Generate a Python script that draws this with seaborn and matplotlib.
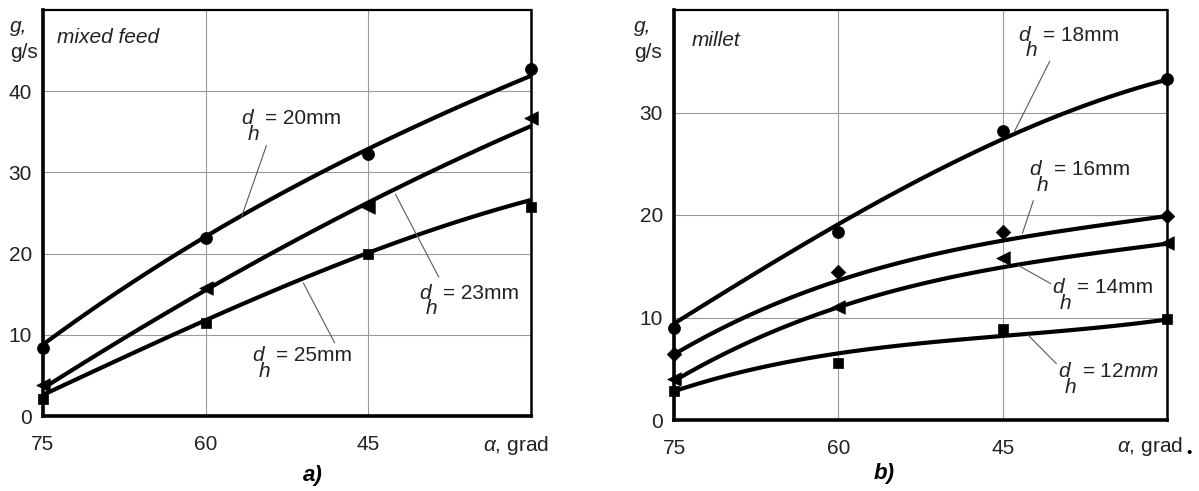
import numpy as np
import pandas as pd
import seaborn as sns
import matplotlib.pyplot as plt

sns.set_theme(style="white")
plt.rcParams['font.family'] = ['Liberation Sans', 'DejaVu Sans']
plt.rcParams['mathtext.fontset'] = 'custom'
plt.rcParams['mathtext.rm'] = 'Liberation Sans'
plt.rcParams['mathtext.it'] = 'Liberation Sans:italic'

angles = [75, 60, 45, 30]

# a) mixed feed - measured points and the drawn trend curve, read off the figure
g_20 = [8.4, 21.9, 32.3, 42.7]
g_23 = [3.8, 15.8, 25.8, 36.7]
g_25 = [2.1, 11.5, 20.0, 25.8]
fit_20 = [8.8, 22.1, 32.9, 41.9]
fit_23 = [3.4, 15.5, 26.3, 35.7]
fit_25 = [2.6, 11.8, 20.1, 26.6]

# b) millet
g_18 = [9.0, 18.3, 28.2, 33.3]
g_16 = [6.4, 14.4, 18.3, 19.9]
g_14 = [4.0, 11.0, 15.8, 17.3]
g_12 = [2.8, 5.6, 8.9, 9.9]
fit_18 = [9.4, 19.1, 27.4, 33.2]
fit_16 = [6.4, 13.6, 17.5, 19.9]
fit_14 = [3.8, 11.0, 14.9, 17.2]
fit_12 = [2.8, 6.5, 8.2, 9.8]

FS = 15
TXT = '#222222'

fig = plt.figure(figsize=(11.99, 4.91), dpi=100)
ax1 = fig.add_axes([43 / 1199, 75 / 491, 488 / 1199, 406 / 491])
ax2 = fig.add_axes([674 / 1199, 71 / 491, 493 / 1199, 410 / 491])


def draw_series(ax, g, fit, marker, size):
    df = pd.DataFrame({"angle": angles, "g": g, "fit": fit})
    sns.regplot(data=df, x="angle", y="fit", order=3, ci=None, scatter=False,
                color="black", line_kws=dict(lw=3.0, solid_capstyle="butt"), ax=ax)
    sns.scatterplot(data=df, x="angle", y="g", marker=marker, s=size, color="black",
                    edgecolor="black", linewidth=0.5, clip_on=False, zorder=4, ax=ax)


def dh_label(ax, x, y, num, mm_italic=False):
    ax.text(x, y, "d", style="italic", ha="center", va="center", fontsize=FS, color=TXT)
    ax.annotate("h", (x, y), xytext=(5, -11), textcoords="offset points", style="italic",
                ha="center", va="center", fontsize=FS, color=TXT)
    s = "= " + num + (r"$\mathit{mm}$" if mm_italic else "mm")
    ax.annotate(s, (x, y), xytext=(13, 0), textcoords="offset points",
                ha="left", va="center", fontsize=FS, color=TXT)


def leader(ax, p0, p1):
    ax.annotate("", xy=p1, xytext=p0,
                arrowprops=dict(arrowstyle="-", lw=0.8, color="0.35", shrinkA=0, shrinkB=0))


def style_axes(ax, ymax, yticks, dx, dy):
    ax.set_xlim(75, 30)
    ax.set_ylim(0, ymax)
    ax.set_xticks([75, 60, 45])
    ax.set_yticks(yticks)
    ax.set_xlabel("")
    ax.set_ylabel("")
    ax.grid(True, color="0.6", lw=0.8)
    ax.set_axisbelow(True)
    ax.tick_params(axis="x", length=0, pad=14, labelsize=FS, labelcolor=TXT)
    ax.tick_params(axis="y", length=0, pad=8, labelsize=FS, labelcolor=TXT)
    for side, lw in [("left", 2.6), ("bottom", 2.6), ("right", 1.8), ("top", 1.6)]:
        ax.spines[side].set_visible(True)
        ax.spines[side].set_color("black")
        ax.spines[side].set_linewidth(lw)
    ax.annotate(r"$\alpha$, grad", xy=(30, 0), xycoords=("data", "axes fraction"),
                xytext=(dx, dy), textcoords="offset points", ha="center", va="center",
                fontsize=FS, color=TXT)


# panel a
draw_series(ax1, g_20, fit_20, "o", 75)
draw_series(ax1, g_23, fit_23, "<", 95)
draw_series(ax1, g_25, fit_25, "s", 50)
style_axes(ax1, 50, [0, 10, 20, 30, 40], -11, -21)
ax1.text(73.7, 46.6, "mixed feed", style="italic", ha="left", va="center", fontsize=FS, color=TXT)
dh_label(ax1, 56.2, 36.6, "20")
dh_label(ax1, 39.8, 15.1, "23")
dh_label(ax1, 55.2, 7.4, "25")
leader(ax1, (54.4, 33.3), (56.7, 24.5))
leader(ax1, (42.5, 27.3), (38.5, 17.1))
leader(ax1, (51.0, 16.4), (48.1, 9.0))

# panel b
draw_series(ax2, g_18, fit_18, "o", 75)
draw_series(ax2, g_16, fit_16, "D", 55)
draw_series(ax2, g_14, fit_14, "<", 95)
draw_series(ax2, g_12, fit_12, "s", 50)
style_axes(ax2, 40, [0, 10, 20, 30], -12, -19)
ax2.annotate("\u2022", xy=(30, 0), xycoords=("data", "axes fraction"), xytext=(16, -24),
             textcoords="offset points", ha="center", va="center", fontsize=11, color="black")
ax2.text(73.4, 37.0, "millet", style="italic", ha="left", va="center", fontsize=FS, color=TXT)
dh_label(ax2, 43.0, 37.5, "18")
dh_label(ax2, 42.0, 24.4, "16")
dh_label(ax2, 39.9, 12.9, "14")
dh_label(ax2, 39.4, 4.7, "12", mm_italic=True)
leader(ax2, (40.7, 35.0), (43.9, 28.2))
leader(ax2, (42.2, 21.4), (43.2, 18.2))
leader(ax2, (40.6, 13.3), (43.6, 15.1))
leader(ax2, (40.1, 5.5), (42.7, 8.3))

# unit labels and panel letters
for x0 in [10 / 1199, 634 / 1199]:
    fig.text(x0, 1 - 26 / 491, "g,", style="italic", ha="left", va="center", fontsize=FS, color=TXT)
    fig.text(x0, 1 - 53 / 491, "g/s", ha="left", va="center", fontsize=FS, color=TXT)
fig.text(313 / 1199, 1 - 475 / 491, "a)", style="italic", weight="bold", ha="center",
         va="center", fontsize=16, color="black")
fig.text(884 / 1199, 1 - 473 / 491, "b)", style="italic", weight="bold", ha="center",
         va="center", fontsize=16, color="black")

fig.savefig("out.png", dpi=100)
